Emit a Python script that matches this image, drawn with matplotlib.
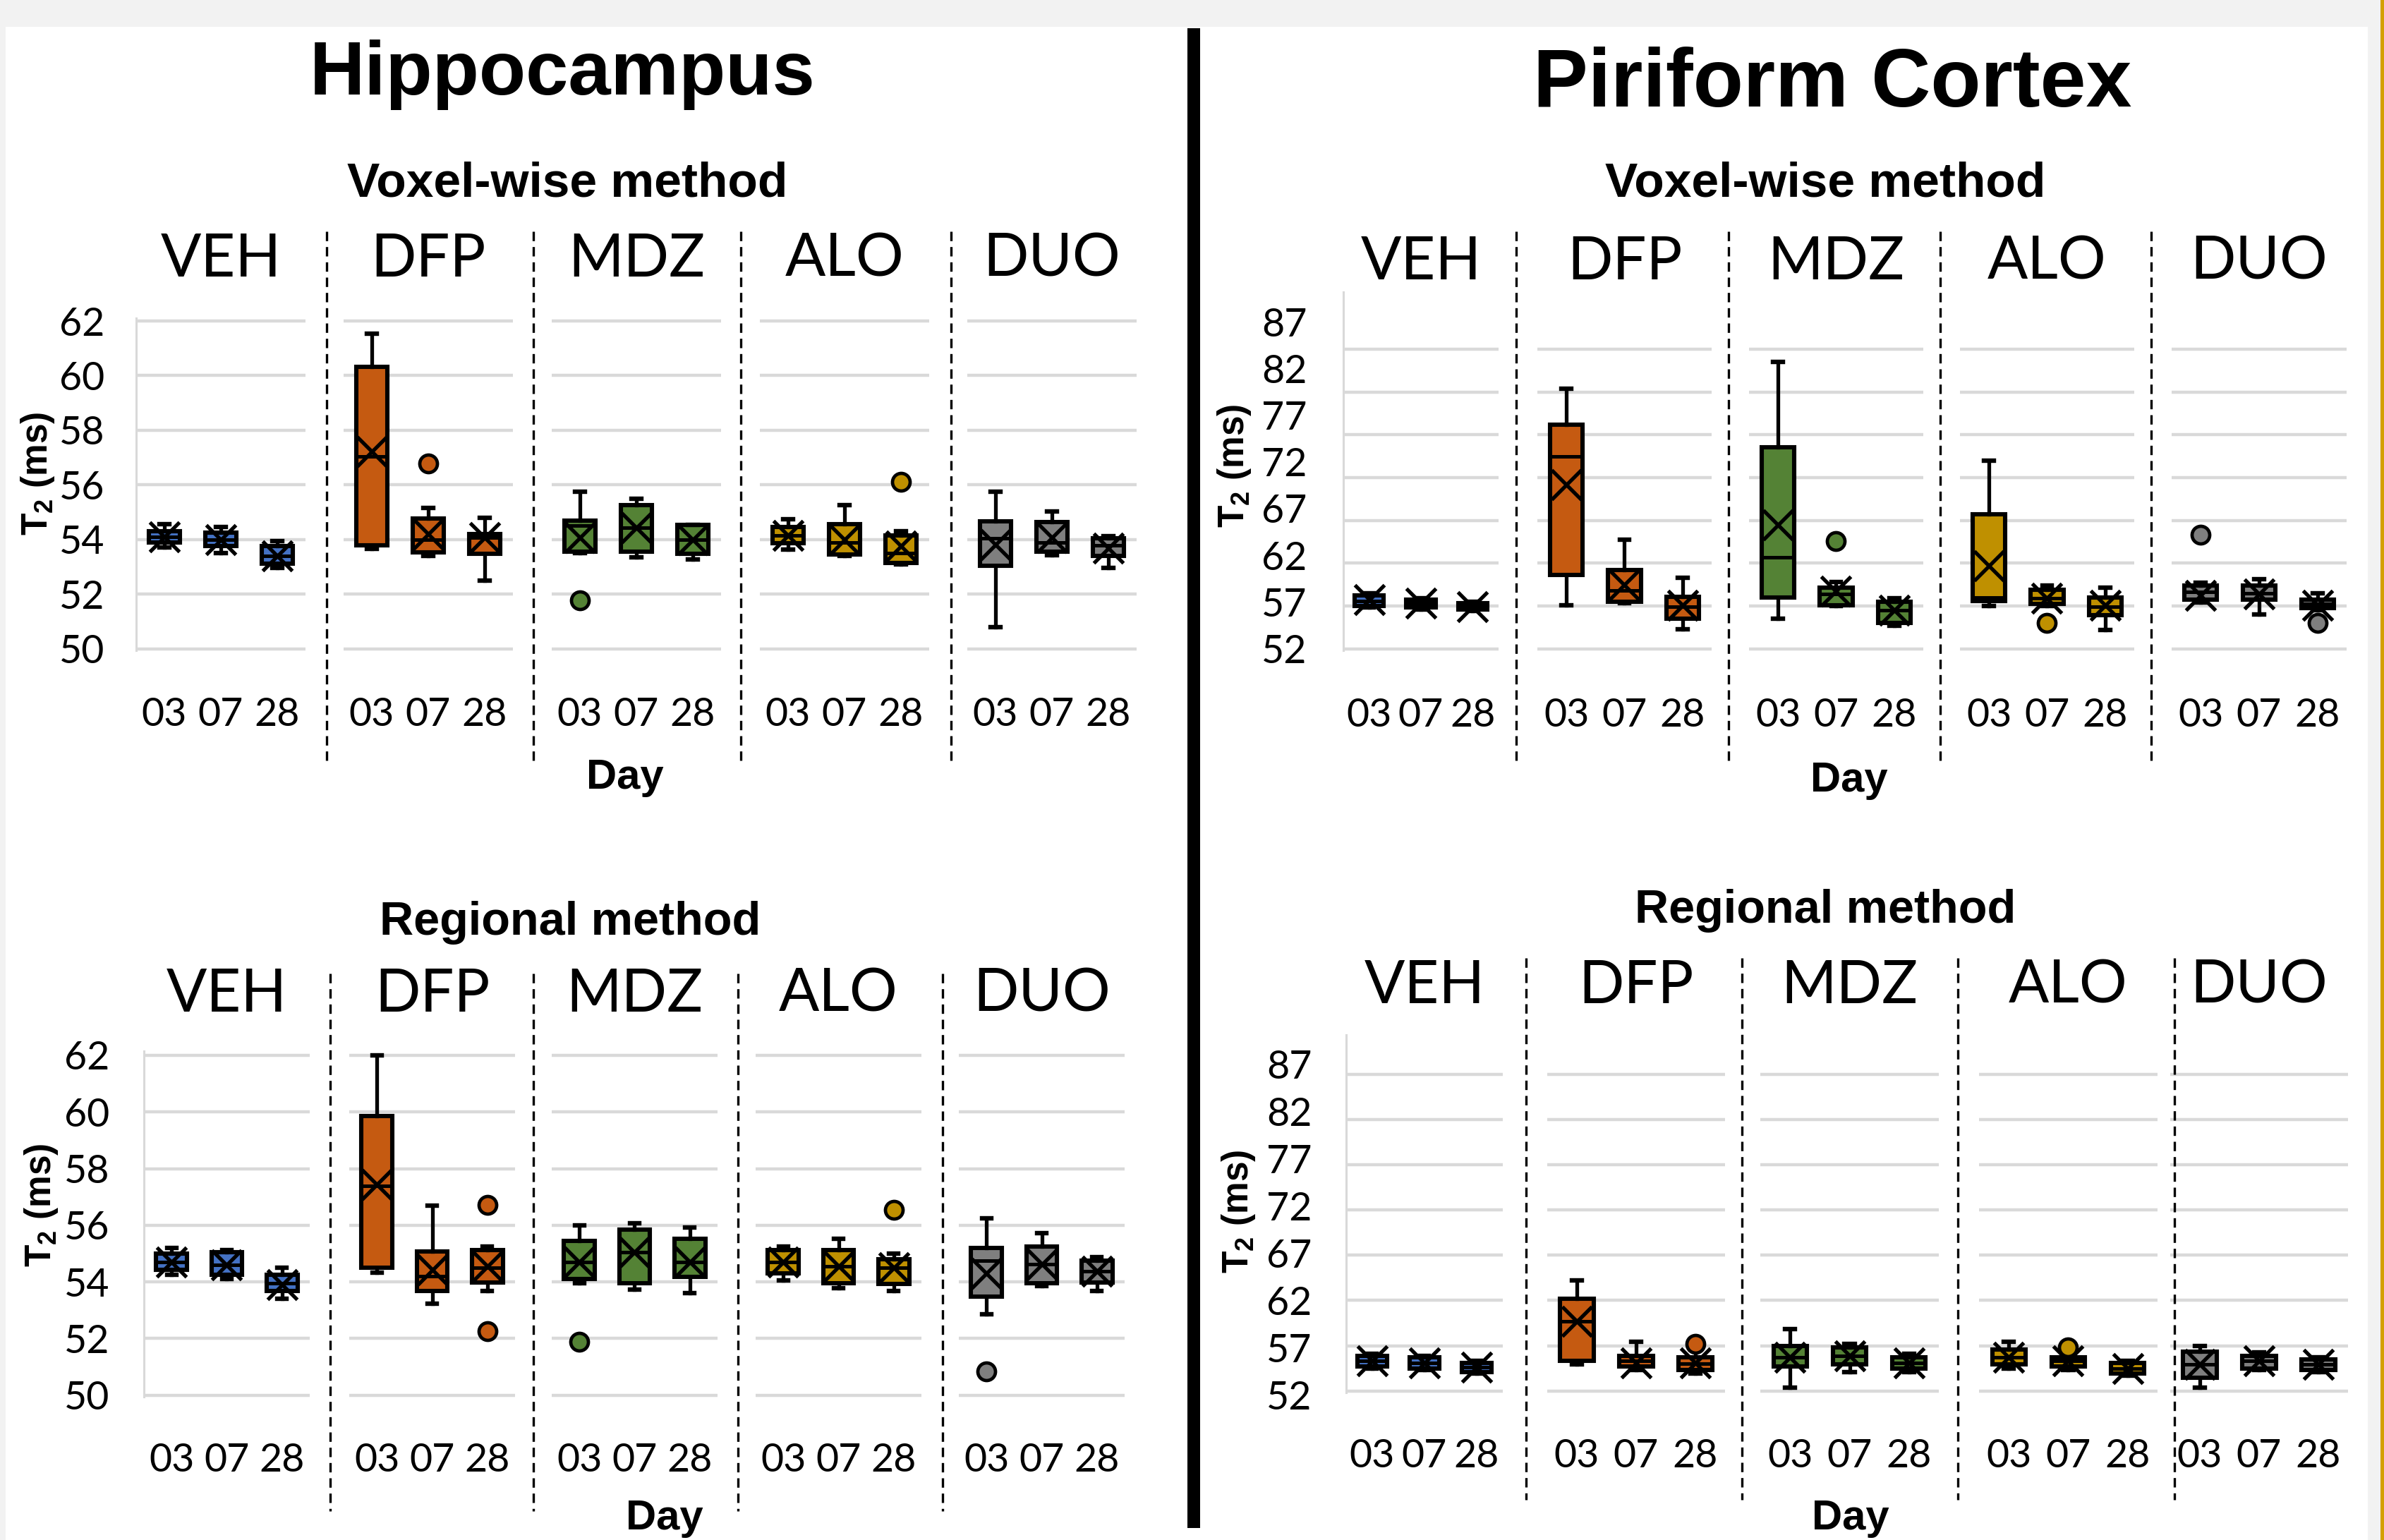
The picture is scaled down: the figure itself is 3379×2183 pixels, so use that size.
import numpy as np
import matplotlib.pyplot as plt
from matplotlib.patches import Rectangle
from matplotlib.lines import Line2D

########################################################################
# data : T2 (ms) box statistics, rows = groups, columns = days
groups = ['VEH', 'DFP', 'MDZ', 'ALO', 'DUO']
days = ['03', '07', '28']
colors = ['#4472C4', '#C55A11', '#548235', '#BF9000', '#7F7F7F']

# Hippocampus, voxel-wise method
hv_lo = [[53.7, 53.5, 52.95], [53.65, 53.4, 52.5], [53.5, 53.34, 53.27], [53.62, 53.4, 53.08], [50.79, 53.43, 52.96]]
hv_q1 = [[53.9, 53.75, 53.1], [53.78, 53.53, 53.47], [53.55, 53.55, 53.47], [53.85, 53.44, 53.14], [53.03, 53.55, 53.4]]
hv_med = [[54.1, 54.0, 53.4], [57.05, 53.99, 54.07], [54.5, 54.43, 53.99], [54.15, 53.9, 53.5], [54.05, 53.9, 53.78]]
hv_q3 = [[54.3, 54.25, 53.75], [60.32, 54.77, 54.2], [54.69, 55.26, 54.53], [54.45, 54.57, 54.15], [54.66, 54.64, 54.04]]
hv_hi = [[54.55, 54.45, 53.95], [61.53, 55.15, 54.8], [55.75, 55.49, 54.53], [54.74, 55.25, 54.3], [55.75, 55.02, 54.12]]
hv_mean = [[54.1, 54.0, 53.4], [57.22, 54.2, 54.07], [54.07, 54.43, 53.99], [54.15, 54.0, 53.76], [53.81, 54.07, 53.68]]
hv_out = [[[], [], []], [[], [56.78], []], [[51.77], [], []], [[], [], [56.1]], [[], [], []]]

# Piriform cortex, voxel-wise method
pv_lo = [[56.8, 56.6, 56.4], [57.1, 57.3, 54.3], [55.5, 57.0, 54.7], [57.0, 57.0, 54.2], [57.4, 56.0, 56.5]]
pv_q1 = [[57.0, 56.8, 56.6], [60.6, 57.5, 55.5], [58.0, 57.05, 55.0], [57.6, 57.2, 55.9], [57.7, 57.7, 56.7]]
pv_med = [[57.6, 57.3, 56.95], [74.5, 58.8, 56.9], [62.7, 58.4, 56.5], [58.0, 57.9, 56.9], [58.6, 58.5, 57.2]]
pv_q3 = [[58.2, 57.7, 57.3], [78.2, 61.2, 58.1], [75.5, 59.1, 57.45], [67.7, 58.9, 58.0], [59.4, 59.4, 57.7]]
pv_hi = [[58.5, 57.9, 57.5], [82.4, 64.7, 60.3], [85.5, 59.8, 57.9], [74.0, 59.4, 59.1], [59.7, 60.1, 58.5]]
pv_mean = [[57.7, 57.3, 56.9], [71.2, 59.5, 57.05], [66.5, 58.7, 56.5], [61.7, 57.9, 57.05], [58.25, 58.4, 57.1]]
pv_out = [[[], [], []], [[], [], []], [[], [64.6], []], [[], [55.0], []], [[65.3], [], [55.0]]]

# Hippocampus, regional method
hr_lo = [[54.24, 54.1, 53.4], [54.33, 53.22, 53.67], [53.95, 53.73, 53.6], [54.05, 53.77, 53.69], [52.86, 53.86, 53.67]]
hr_q1 = [[54.43, 54.24, 53.67], [54.5, 53.69, 53.98], [54.11, 53.96, 54.18], [54.3, 53.95, 53.92], [53.47, 53.96, 53.98]]
hr_med = [[54.7, 54.6, 53.95], [57.4, 54.2, 54.5], [54.7, 55.04, 54.69], [54.69, 54.56, 54.5], [54.75, 54.62, 54.37]]
hr_q3 = [[55.0, 55.04, 54.24], [59.86, 55.07, 55.13], [55.45, 55.84, 55.52], [55.13, 55.13, 54.81], [55.2, 55.26, 54.75]]
hr_hi = [[55.2, 55.13, 54.5], [62.0, 56.69, 55.26], [56.0, 56.07, 55.93], [55.26, 55.52, 55.0], [56.25, 55.71, 54.88]]
hr_mean = [[54.7, 54.6, 53.9], [57.43, 54.43, 54.56], [54.69, 55.04, 54.69], [54.69, 54.56, 54.5], [54.3, 54.62, 54.37]]
hr_out = [[[], [], []], [[], [], [56.73, 52.26]], [[51.88], [], []], [[], [], [56.54]], [[50.83], [], []]]

# Piriform cortex, regional method
pr_lo = [[54.5, 54.3, 53.9], [54.9, 54.3, 53.9], [52.4, 54.1, 54.1], [54.5, 54.3, 53.7], [52.4, 54.3, 54.1]]
pr_q1 = [[54.7, 54.5, 54.1], [55.3, 54.7, 54.3], [54.7, 54.9, 54.5], [54.9, 54.7, 53.9], [53.45, 54.5, 54.3]]
pr_med = [[55.3, 55.1, 54.6], [59.7, 55.3, 55.0], [55.7, 55.9, 55.1], [55.7, 55.3, 54.5], [54.9, 55.3, 54.9]]
pr_q3 = [[55.9, 55.7, 55.1], [62.15, 55.9, 55.7], [57.0, 56.8, 55.7], [56.55, 55.7, 55.1], [56.35, 55.9, 55.5]]
pr_hi = [[56.1, 55.9, 55.3], [64.2, 57.4, 56.6], [58.8, 57.2, 56.1], [57.4, 56.0, 55.3], [57.0, 56.3, 55.7]]
pr_mean = [[55.3, 55.1, 54.6], [59.7, 55.1, 55.1], [55.7, 55.9, 55.1], [55.7, 55.3, 54.5], [54.9, 55.3, 54.9]]
pr_out = [[[], [], []], [[], [], [57.2]], [[], [], []], [[], [56.8], []], [[], [], []]]

hip_grid = [50, 52, 54, 56, 58, 60, 62]
pir_grid = [52, 57, 62, 67, 72, 77, 82, 87]

########################################################################
W, H = 3380, 2183
plt.rcParams['mathtext.fontset'] = 'custom'
plt.rcParams['mathtext.rm'] = 'Liberation Sans'
plt.rcParams['mathtext.bf'] = 'Liberation Sans:bold'

fig = plt.figure(figsize=(W / 100, H / 100), dpi=100, facecolor='#f2f2f2')
fig.add_artist(Rectangle((8 / W, 0), (3356 - 8) / W, 1 - 38 / H, transform=fig.transFigure,
                         facecolor='white', edgecolor='none', zorder=-10))
fig.add_artist(Rectangle((3374 / W, 0), 6 / W, 1, transform=fig.transFigure,
                         facecolor='#D4A000', edgecolor='none'))
# thick divider between the two regions
fig.add_artist(Rectangle((1683 / W, 1 - 2166 / H), 18 / W, (2166 - 40) / H,
                         transform=fig.transFigure, facecolor='black', edgecolor='none'))

BODY = 'Lato'
BOLD = 'Liberation Sans'


def ftext(x, y, s, **kw):
    fig.text(x / W, 1 - y / H, s, **kw)


def draw_panel(lo, q1, med, q3, hi, mean, out, grid, lefts, widths, top_px, base_px, ppu,
               lab_base_px, lab_step_px, lab_pad, seps, sep_y, grp_y, tick_pad):
    base_val = grid[0]
    ymin = base_val - 6 / ppu
    ymax = base_val + (base_px - top_px) / ppu
    lab_vals = [base_val + (base_px - (lab_base_px - k * lab_step_px)) / ppu for k in range(len(grid))]
    for g in range(len(groups)):
        ax = fig.add_axes([lefts[g] / W, 1 - (base_px + 6) / H, widths[g] / W, (base_px + 6 - top_px) / H])
        ax.set_facecolor('none')
        for v in grid:
            ax.axhline(v, color='#d9d9d9', lw=3.2, zorder=0)
        stats = []
        for d in range(len(days)):
            stats.append(dict(whislo=lo[g][d], q1=q1[g][d], med=med[g][d], q3=q3[g][d],
                              whishi=hi[g][d], mean=mean[g][d], fliers=out[g][d]))
        ax.bxp(stats, positions=range(len(days)), widths=0.56, capwidths=0.17,
               patch_artist=True, showmeans=True,
               boxprops=dict(facecolor=colors[g], edgecolor='black', linewidth=4.4),
               whiskerprops=dict(color='black', linewidth=3.8),
               capprops=dict(color='black', linewidth=4.6),
               medianprops=dict(color='black', linewidth=3.6),
               meanprops=dict(marker='x', markersize=30, markeredgecolor='black', markeredgewidth=3.8),
               flierprops=dict(marker='o', markersize=18, markerfacecolor=colors[g],
                               markeredgecolor='black', markeredgewidth=3.4))
        ax.set_xlim(-0.5, 2.5)
        ax.set_ylim(ymin, ymax)
        ax.set_xticks(range(len(days)), days, fontsize=40, family=BODY)
        ax.tick_params(axis='x', length=0, pad=tick_pad)
        for s in ['top', 'right', 'bottom']:
            ax.spines[s].set_visible(False)
        if g == 0:
            ax.spines['left'].set_color('#d9d9d9')
            ax.spines['left'].set_linewidth(2.2)
            ax.spines['left'].set_bounds(ymin + 4 / ppu, ymax)
            ax.set_yticks(lab_vals, [str(v) for v in grid], fontsize=40, family=BODY)
            ax.tick_params(axis='y', length=0, pad=lab_pad)
        else:
            ax.spines['left'].set_visible(False)
            ax.set_yticks([])
        ftext(lefts[g] + widths[g] / 2, grp_y, groups[g], fontsize=61, family=BODY,
              ha='center', va='center')
    for x in seps:
        fig.add_artist(Line2D([x / W, x / W], [1 - sep_y[0] / H, 1 - sep_y[1] / H],
                              transform=fig.transFigure, color='black', lw=2.4,
                              linestyle=(0, (4.0, 2.5))))


# Hippocampus voxel-wise
draw_panel(hv_lo, hv_q1, hv_med, hv_q3, hv_hi, hv_mean, hv_out, hip_grid,
           [193, 487, 782, 1077, 1371], [240] * 5, 451, 919.5, 38.71, 919.5, 77.4, 32,
           [463, 756, 1050, 1348], (328, 1085), 368, 45)
# Hippocampus regional
draw_panel(hr_lo, hr_q1, hr_med, hr_q3, hr_hi, hr_mean, hr_out, hip_grid,
           [204, 495, 782, 1071, 1359], [235] * 5, 1490, 1977.6, 40.13, 1977.6, 80.3, 35,
           [468, 756, 1046, 1336], (1380, 2142), 1410, 44)
# Piriform voxel-wise
draw_panel(pv_lo, pv_q1, pv_med, pv_q3, pv_hi, pv_mean, pv_out, pir_grid,
           [1904, 2179, 2479, 2778, 3078], [220, 247, 247, 247, 248], 414, 919.5, 12.13, 919.5, 66.2, 37,
           [2149, 2450, 2750, 3049], (328, 1085), 372, 46)
# Piriform regional
draw_panel(pr_lo, pr_q1, pr_med, pr_q3, pr_hi, pr_mean, pr_out, pir_grid,
           [1908, 2193, 2495, 2805, 3076], [222, 252, 253, 253, 252], 1467, 1971.7, 12.83, 1977, 66.9, 35,
           [2163, 2469, 2775, 3082], (1358, 2126), 1398, 44)

# titles and labels
ftext(797, 106, 'Hippocampus', fontsize=78, weight='bold', family=BOLD, ha='center', va='center')
ftext(2597, 121, 'Piriform Cortex', fontsize=84, weight='bold', family=BOLD, ha='center', va='center')
ftext(804, 261, 'Voxel-wise method', fontsize=50, weight='bold', family=BOLD, ha='center', va='center')
ftext(2587, 261, 'Voxel-wise method', fontsize=50, weight='bold', family=BOLD, ha='center', va='center')
ftext(808, 1308, 'Regional method', fontsize=48, weight='bold', family=BOLD, ha='center', va='center')
ftext(2587, 1291, 'Regional method', fontsize=48, weight='bold', family=BOLD, ha='center', va='center')
ftext(886, 1103, 'Day', fontsize=43, weight='bold', family=BOLD, ha='center', va='center')
ftext(2621, 1106, 'Day', fontsize=43, weight='bold', family=BOLD, ha='center', va='center')
ftext(942, 2180, 'Day', fontsize=43, weight='bold', family=BOLD, ha='center', va='bottom')
ftext(2623, 2180, 'Day', fontsize=43, weight='bold', family=BOLD, ha='center', va='bottom')

ylab = r'T$_{\mathbf{2}}$ (ms)'
for x, y in [(54, 671), (1750, 660), (59, 1708), (1756, 1717)]:
    ftext(x, y, ylab, fontsize=37, weight='bold', family=BOLD, rotation=90, ha='center', va='center')

fig.savefig('out.png', dpi=100, facecolor=fig.get_facecolor())
